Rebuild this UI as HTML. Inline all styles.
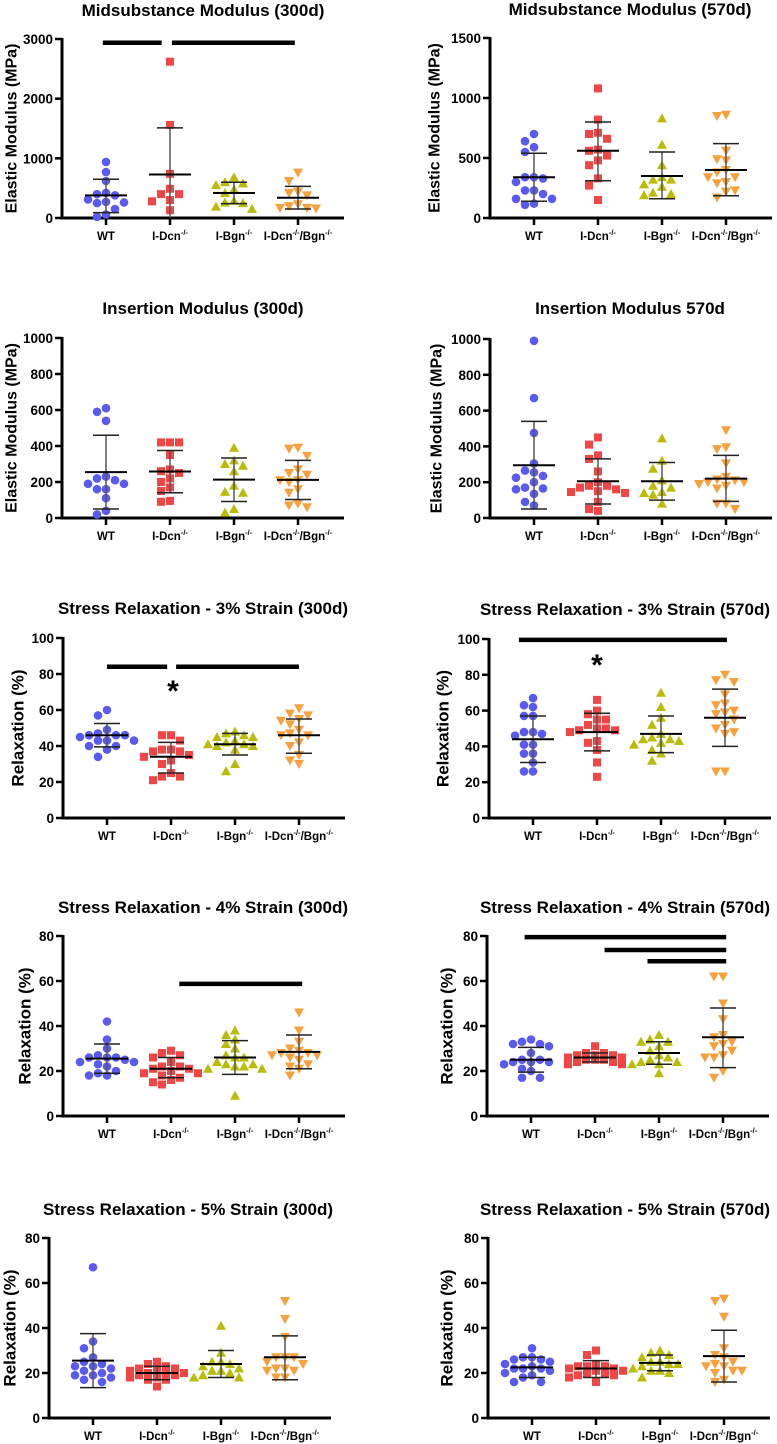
<!DOCTYPE html>
<html><head><meta charset="utf-8">
<style>
html,body{margin:0;padding:0;background:#fff;}
svg{display:block;font-family:"Liberation Sans",Arial,sans-serif;}
</style></head>
<body>
<svg id="fig" width="777" height="1444" viewBox="0 0 777 1444"></svg>
<script>
const groups = ["WT","I-Dcn","I-Bgn","I-Dcn/Bgn"];
// P1 Midsubstance 300d
const p1WT=[940,770,620,420,400,380,310,270,250,260,150,60,20];
const p1Dcn=[2620,1560,740,490,400,400,300,280,130];
const p1Bgn=[680,600,580,550,480,420,290,260,250,190,150];
const p1DB=[760,620,440,420,380,230,200,170,170,160];
const p1Mean=[380,730,420,340];
const p1Hi=[650,1510,600,530];
const p1Lo=[90,-50,240,150];
// P2 Midsubstance 570d
const p2WT=[700,640,590,550,340,340,330,300,230,230,200,160,160,110,120];
const p2Dcn=[1080,820,710,700,660,570,560,520,480,440,330,270,150];
const p2Bgn=[830,610,440,340,320,320,280,260,210,200,190];
const p2DB=[860,850,560,490,480,400,380,340,340,300,290,230,220,170];
const p2Mean=[340,560,350,400];
const p2Hi=[540,800,550,620];
const p2Lo=[140,310,160,185];
// P3 Insertion 300d
const p3WT=[610,590,540,230,220,210,190,190,160,160,110,40,20];
const p3Dcn=[420,420,420,350,270,260,250,220,200,170,150,95,90];
const p3Bgn=[390,320,300,290,260,180,145,140,50,30];
const p3DB=[390,385,345,270,250,240,210,210,200,160,140,80,70,60];
const p3Mean=[255,258,213,212];
const p3Hi=[460,375,333,320];
const p3Lo=[50,140,92,103];
// P4 Insertion 570d
const p4WT=[990,670,475,305,265,255,225,235,200,170,165,160,135,90,70];
const p4Dcn=[450,410,350,330,260,200,180,180,170,160,150,145,140,90,50,40];
const p4Bgn=[445,320,275,210,180,170,145,140,130,80];
const p4DB=[490,395,385,305,230,215,210,200,200,190,180,165,80,80,50];
const p4Mean=[295,205,205,220];
const p4Hi=[540,330,310,350];
const p4Lo=[50,78,100,93];
// P5 SR3 300d
const p5WT=[60,57,49,47,46,46,46,45,43,43,43,40,40,38,34];
const p5Dcn=[46,46,43,38,38,37,37,35,34,32,30,25,23,23,21];
const p5Bgn=[48,47,46,45,45,43,42,41,41,40,40,38,30,26];
const p5DB=[61,58,57,55,54,52,49,47,46,46,42,40,35,32,30];
const p5Mean=[46,34,41,46];
const p5Hi=[52.5,42,47,55];
const p5Lo=[39.5,25,35,36];
// P6 SR3 570d
const p6WT=[67,63,62,57,57,48,48,47,46,41,41,36,36,31,26,26];
const p6Dcn=[66,60,58,55,55,52,50,50,49,49,48,43,42,38,31,23];
const p6Bgn=[70,62,56,52,47,45,44,44,43,42,41,38,36,32];
const p6DB=[80,77,76,69,64,63,60,59,58,55,52,50,48,47,26,26];
const p6Mean=[44,48,47,56];
const p6Hi=[57,58.5,57,72];
const p6Lo=[31,37.5,36.5,40];
// P7 SR4 300d
const p7WT=[42,34,30,27,26,26,26,25,24,24,23,22,20,19,18,18];
const p7Dcn=[29,28,27,26,24,22,22,21,21,20,19,19,18,17,16,15,14];
const p7Bgn=[38,36,34,32,30,27,26,26,24,23,23,22,22,21,21,9];
const p7DB=[46,38,33,30,29,28,28,27,27,26,25,23,22,21,18];
const p7Mean=[25.5,21,26,28.5];
const p7Hi=[32,26,33.5,36];
const p7Lo=[19,17,18.5,21];
// P8 SR4 570d
const p8WT=[34,33,32,32,31,28,25,25,24,24,24,23,21,20,17,17];
const p8Dcn=[31,28,28,27,27,27,26,26,25,25,25,24,24,23,23];
const p8Bgn=[36,34,33,33,31,29,27,26,25,24,24,23,23,19];
const p8DB=[62,62,50,43,36,35,33,32,31,29,27,26,26,20,17];
const p8Mean=[25,26,28,35];
const p8Hi=[30.5,28,33,48];
const p8Lo=[19.5,24,23,21.5];
// P9 SR5 300d
const p9WT=[67,34,31,27,25,24,23,23,22,21,20,19,19,18,17,16];
const p9Dcn=[25,24,23,22,22,21,21,20,20,20,19,19,18,18,17,17,14];
const p9Bgn=[41,29,25,25,24,23,22,21,21,20,19,18,18];
const p9DB=[52,44,36,27,27,27,25,24,22,22,21,21,18,18];
const p9Mean=[25.5,20,24,27];
const p9Hi=[37.5,23,30,36.5];
const p9Lo=[13.5,17,18,17];
// P10 SR5 570d
const p10WT=[31,27,27,26,26,25,24,23,22,22,22,21,20,19,18,16,16];
const p10Dcn=[30,28,24,23,23,23,22,22,21,21,20,20,19,19,18,16];
const p10Bgn=[30,29,28,27,25,25,24,24,23,22,21,21,20,18];
const p10DB=[53,52,45,31,28,27,25,24,23,23,21,21,20,17,16];
const p10Mean=[22.5,22,24.5,27.5];
const p10Hi=[27,25.5,28,39];
const p10Lo=[18,18,21,16];
// significance bars: [value, startGroup, endGroup]
const p1Sig=[[2937,-0.05,0.87],[2937,1.03,2.95]];
const p5Sig=[[84,0.0,0.94],[84,1.08,3.0]];
const p6Sig=[[99.5,-0.22,3.03]];
const p7Sig=[[58.7,1.13,3.05]];
const p8Sig=[[79.5,-0.1,3.05],[73.8,1.15,3.05],[68.8,1.82,3.05]];
const p3TickVals=[0,200,400,600,800,1000];

const NS="http://www.w3.org/2000/svg";
const svg=document.getElementById('fig');
function mk(tag,attrs,parent){const e=document.createElementNS(NS,tag);for(const k in attrs)e.setAttribute(k,attrs[k]);(parent||svg).appendChild(e);return e;}
const colors=["#5a5af0","#f24545","#b9bd0a","#f6a03e"];

const panels=[
 {id:"midsubstance-300d",title:"Midsubstance Modulus (300d)",tx:203,ty:10,ax:62,y0:218,yt:39,max:3000,ticks:[0,1000,2000,3000],yl:"Elastic Modulus (MPa)",ylx:12,data:[p1WT,p1Dcn,p1Bgn,p1DB],mean:p1Mean,hi:p1Hi,lo:p1Lo,sig:p1Sig},
 {id:"midsubstance-570d",title:"Midsubstance Modulus (570d)",tx:630,ty:9,ax:490,y0:218,yt:38,max:1500,ticks:[0,500,1000,1500],yl:"Elastic Modulus (MPa)",ylx:435,data:[p2WT,p2Dcn,p2Bgn,p2DB],mean:p2Mean,hi:p2Hi,lo:p2Lo,sig:[]},
 {id:"insertion-300d",title:"Insertion Modulus (300d)",tx:203,ty:308,ax:62,y0:518,yt:338,max:1000,ticks:p3TickVals,yl:"Elastic Modulus (MPa)",ylx:12,data:[p3WT,p3Dcn,p3Bgn,p3DB],mean:p3Mean,hi:p3Hi,lo:p3Lo,sig:[]},
 {id:"insertion-570d",title:"Insertion Modulus 570d",tx:630,ty:308,ax:490,y0:518,yt:339,max:1000,ticks:p3TickVals,yl:"Elastic Modulus (MPa)",ylx:437,data:[p4WT,p4Dcn,p4Bgn,p4DB],mean:p4Mean,hi:p4Hi,lo:p4Lo,sig:[]},
 {id:"sr3-300d",title:"Stress Relaxation - 3% Strain (300d)",tx:203,ty:608,ax:63,y0:818,yt:638,max:100,ticks:[0,20,40,60,80,100],yl:"Relaxation (%)",ylx:18,data:[p5WT,p5Dcn,p5Bgn,p5DB],mean:p5Mean,hi:p5Hi,lo:p5Lo,sig:p5Sig,star:[173,688]},
 {id:"sr3-570d",title:"Stress Relaxation - 3% Strain (570d)",tx:625,ty:609,ax:489,y0:818,yt:639,max:100,ticks:[0,20,40,60,80,100],yl:"Relaxation (%)",ylx:443,data:[p6WT,p6Dcn,p6Bgn,p6DB],mean:p6Mean,hi:p6Hi,lo:p6Lo,sig:p6Sig,star:[597,662]},
 {id:"sr4-300d",title:"Stress Relaxation - 4% Strain (300d)",tx:203,ty:907,ax:63,y0:1116,yt:936,max:80,ticks:[0,20,40,60,80],yl:"Relaxation (%)",ylx:25,data:[p7WT,p7Dcn,p7Bgn,p7DB],mean:p7Mean,hi:p7Hi,lo:p7Lo,sig:p7Sig},
 {id:"sr4-570d",title:"Stress Relaxation - 4% Strain (570d)",tx:625,ty:907,ax:487,y0:1116,yt:936,max:80,ticks:[0,20,40,60,80],yl:"Relaxation (%)",ylx:447,data:[p8WT,p8Dcn,p8Bgn,p8DB],mean:p8Mean,hi:p8Hi,lo:p8Lo,sig:p8Sig},
 {id:"sr5-300d",title:"Stress Relaxation - 5% Strain (300d)",tx:188,ty:1209,ax:49,y0:1418,yt:1238,max:80,ticks:[0,20,40,60,80],yl:"Relaxation (%)",ylx:10,data:[p9WT,p9Dcn,p9Bgn,p9DB],mean:p9Mean,hi:p9Hi,lo:p9Lo,sig:[]},
 {id:"sr5-570d",title:"Stress Relaxation - 5% Strain (570d)",tx:625,ty:1209,ax:488,y0:1418,yt:1238,max:80,ticks:[0,20,40,60,80],yl:"Relaxation (%)",ylx:447,data:[p10WT,p10Dcn,p10Bgn,p10DB],mean:p10Mean,hi:p10Hi,lo:p10Lo,sig:[]}
];

function marker(g,type,cx,cy,col){
  let e;
  if(type===0) e=mk('circle',{cx:cx,cy:cy,r:4.3,fill:col},g);
  else if(type===1) e=mk('rect',{x:cx-4,y:cy-4,width:8,height:8,fill:col},g);
  else if(type===2) e=mk('polygon',{points:`${cx},${cy-5} ${cx-5},${cy+4} ${cx+5},${cy+4}`,fill:col},g);
  else e=mk('polygon',{points:`${cx},${cy+5} ${cx-5},${cy-4} ${cx+5},${cy-4}`,fill:col},g);
  
  
}

panels.forEach(p=>{
  const g=mk('g',{});
  
  
  const yS=v=>p.y0-(v/p.max)*(p.y0-p.yt);
  const xG=i=>p.ax+44+i*64;
  const xEnd=p.ax+282;
  const t=mk('text',{x:p.tx,y:p.ty+6,'text-anchor':'middle','font-size':'17','font-weight':'bold',fill:'#000'},g);
  t.textContent=p.title;
  
  
  const yc=(p.y0+p.yt)/2;
  const yt=mk('text',{x:p.ylx,y:yc,'text-anchor':'middle','dominant-baseline':'central','font-size':p.yl.startsWith('Rel')?'17':'16','font-weight':'bold',fill:'#000',transform:`rotate(-90 ${p.ylx} ${yc})`},g);
  yt.textContent=p.yl;
  
  
  const ya=mk('line',{x1:p.ax,y1:p.yt-1,x2:p.ax,y2:p.y0+1.5,stroke:'#000','stroke-width':3},g);
  
  
  const xa=mk('line',{x1:p.ax-1.5,y1:p.y0,x2:xEnd,y2:p.y0,stroke:'#000','stroke-width':3},g);
  
  
  p.ticks.forEach(v=>{
    const y=yS(v);
    mk('line',{x1:p.ax-7,y1:y,x2:p.ax,y2:y,stroke:'#000','stroke-width':2.5},g);
    const tl=mk('text',{x:p.ax-9,y:y+5,'text-anchor':'end','font-size':'13.5','font-weight':'bold',fill:'#000'},g);
    tl.textContent=v;
    
    
  });
  groups.forEach((name,i)=>{
    const x=xG(i);
    mk('line',{x1:x,y1:p.y0,x2:x,y2:p.y0+7,stroke:'#000','stroke-width':2.5},g);
    const xl=mk('text',{x:x,y:p.y0+22,'text-anchor':'middle','font-size':'11.5','font-weight':'bold',fill:'#000'},g);
    
    
    const sup=' font-size="7.5" dy="-5"';
    if(i===0) xl.innerHTML='WT';
    else if(i===1) xl.innerHTML='I-Dcn<tspan'+sup+'>-/-</tspan>';
    else if(i===2) xl.innerHTML='I-Bgn<tspan'+sup+'>-/-</tspan>';
    else xl.innerHTML='I-Dcn<tspan'+sup+'>-/-</tspan><tspan dy="5">/Bgn</tspan><tspan'+sup+'>-/-</tspan>';
  });
  p.data.forEach((vals,i)=>{
    const cx0=xG(i);
    const placed=[];
    const sorted=vals.slice().sort((a,b)=>b-a);
    const sg=mk('g',{},g);
    
    
    sorted.forEach(v=>{
      const cy=yS(v);
      const cands=[0,-9,9,-18,18,-27,27];
      let dx=null,best=0,bestC=0;
      for(const c of cands){
        const md=placed.reduce((m,q)=>Math.min(m,Math.hypot(q[0]-c,q[1]-cy)),1e9);
        if(md>=8.5){dx=c;break;}
        if(md>best){best=md;bestC=c;}
      }
      if(dx===null) dx=bestC;
      placed.push([dx,cy]);
      marker(sg,i,cx0+dx,cy,colors[i]);
    });
    const hiY=yS(p.hi[i]), loY=Math.min(yS(p.lo[i]),p.y0), mY=yS(p.mean[i]);
    const ev=mk('line',{x1:cx0,y1:hiY,x2:cx0,y2:loY,stroke:'#555','stroke-width':1.5},g);
    
    
    mk('line',{x1:cx0-13,y1:hiY,x2:cx0+13,y2:hiY,stroke:'#222','stroke-width':1.5},g);
    if(yS(p.lo[i])<p.y0) mk('line',{x1:cx0-13,y1:loY,x2:cx0+13,y2:loY,stroke:'#222','stroke-width':1.5},g);
    const ml=mk('line',{x1:cx0-21,y1:mY,x2:cx0+21,y2:mY,stroke:'#000','stroke-width':2},g);
    
    
  });
  (p.sig||[]).forEach(s=>{
    const b=mk('line',{x1:xG(s[1]),y1:yS(s[0]),x2:xG(s[2]),y2:yS(s[0]),stroke:'#000','stroke-width':4.5},g);
    
    
  });
  if(p.star){
    const st=mk('text',{x:p.star[0],y:p.star[1]+13,'text-anchor':'middle','font-size':'30','font-weight':'bold',fill:'#000'},g);
    st.textContent='*';
    
    
  }
});
</script>
</body></html>
